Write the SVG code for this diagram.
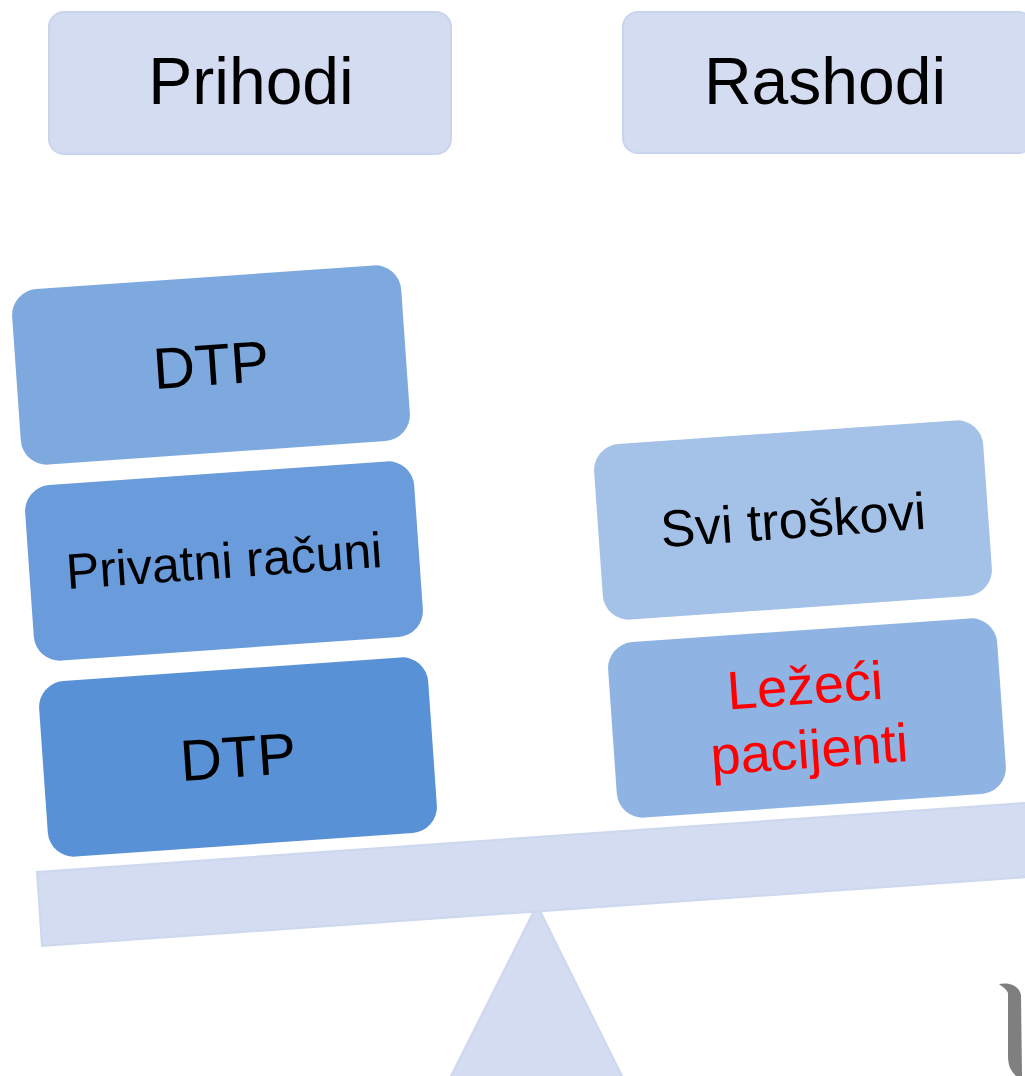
<svg xmlns="http://www.w3.org/2000/svg" width="1025" height="1076" viewBox="0 0 1025 1076">
<style>
.hdr{fill:#d3dcf0;stroke:#cad4ee;stroke-width:2}
.blk{stroke:none}
.t{font-family:"Liberation Sans",Arial,sans-serif;text-anchor:middle;fill:#000}
.red{fill:#ff0000}
.base{fill:#d3dcf0;stroke:#cdd7ef;stroke-width:2}
</style>
<rect width="1025" height="1076" fill="#ffffff"/>
<g id="prihodi">
<rect class="hdr" x="49" y="12" width="402" height="142" rx="15"/>
<text class="t" x="251" y="104" font-size="66">Prihodi</text>
</g>
<g id="rashodi">
<rect class="hdr" x="623" y="12" width="410" height="141" rx="15"/>
<text class="t" x="825" y="104" font-size="66">Rashodi</text>
</g>
<g id="fulcrum">
<polygon class="base" points="537,905 448,1082 625,1082"/>
</g>
<g id="beam">
<polygon class="base" points="37,872 1030,802.6 1035,876.6 42,946"/>
</g>
<g id="dtp-top" transform="translate(211,365) rotate(-4)">
<rect class="blk" x="-195" y="-88" width="390" height="176" rx="26" fill="#7ea9df"/>
<text class="t" x="0" y="20" font-size="58">DTP</text>
</g>
<g id="privatni" transform="translate(224,561) rotate(-4)">
<rect class="blk" x="-195" y="-88" width="390" height="176" rx="26" fill="#6a9bdb"/>
<text class="t" x="0" y="17" font-size="50">Privatni računi</text>
</g>
<g id="dtp-bottom" transform="translate(238,757) rotate(-4)">
<rect class="blk" x="-195" y="-88" width="390" height="176" rx="26" fill="#5891d6"/>
<text class="t" x="0" y="20" font-size="58">DTP</text>
</g>
<g id="svi" transform="translate(793,520) rotate(-4)">
<rect class="blk" x="-195" y="-88" width="390" height="176" rx="26" fill="#a4c1e7"/>
<text class="t" x="0" y="18" font-size="52">Svi troškovi</text>
</g>
<g id="lezeci" transform="translate(807,718) rotate(-4)">
<rect class="blk" x="-195" y="-88" width="390" height="176" rx="26" fill="#8fb4e3"/>
<text class="t red" x="0" y="-14" font-size="54">Ležeći</text>
<text class="t red" x="0" y="50" font-size="54">pacijenti</text>
</g>
<g id="connectors"></g>
<path d="M999,984 C1008,982 1019,985 1021,995 L1022,1076 L1016,1076 C1010,1070 1008,1065 1008,1055 L1008,993 C1006,988 1002,987 999,984 Z" fill="#7f7f7f"/>
</svg>
